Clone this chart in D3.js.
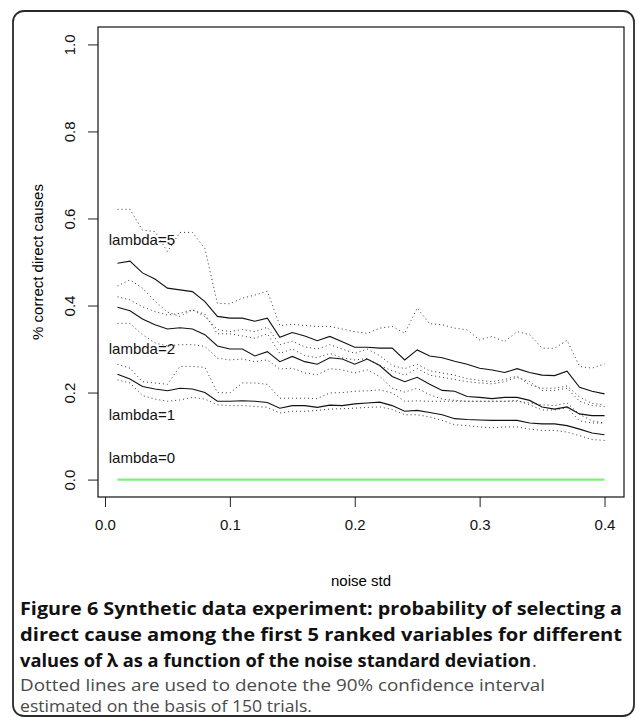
<!DOCTYPE html>
<meta charset="utf-8">
<html>
<head>
<script src="https://d3js.org/d3.v7.min.js"></script>
<style>
    body { margin: 0; background: #fff; }
    svg { display: block; }
</style>
</head>
<body>
<svg id="chart"></svg>
<script>

// noise standard deviation (x)
var noiseStd = [0.01, 0.02, 0.03, 0.04, 0.05, 0.06, 0.07, 0.08, 0.09, 0.10,
                0.11, 0.12, 0.13, 0.14, 0.15, 0.16, 0.17, 0.18, 0.19, 0.20,
                0.21, 0.22, 0.23, 0.24, 0.25, 0.26, 0.27, 0.28, 0.29, 0.30,
                0.31, 0.32, 0.33, 0.34, 0.35, 0.36, 0.37, 0.38, 0.39, 0.40]

// lambda = 5
var lam5Mean = [0.497, 0.502, 0.475, 0.461, 0.440, 0.436, 0.432, 0.409, 0.375, 0.371,
                0.371, 0.364, 0.371, 0.327, 0.338, 0.330, 0.319, 0.329, 0.317, 0.304,
                0.304, 0.302, 0.302, 0.275, 0.298, 0.284, 0.280, 0.272, 0.265, 0.256,
                0.252, 0.246, 0.255, 0.246, 0.240, 0.239, 0.249, 0.212, 0.203, 0.197]
var lam5Hi   = [0.621, 0.621, 0.573, 0.570, 0.524, 0.568, 0.568, 0.531, 0.405, 0.404,
                0.417, 0.424, 0.433, 0.354, 0.357, 0.354, 0.352, 0.352, 0.346, 0.340,
                0.336, 0.348, 0.352, 0.336, 0.394, 0.358, 0.356, 0.348, 0.344, 0.321,
                0.329, 0.317, 0.340, 0.333, 0.302, 0.302, 0.320, 0.260, 0.256, 0.266]
var lam5Lo   = [0.445, 0.459, 0.440, 0.410, 0.385, 0.375, 0.390, 0.380, 0.335, 0.335,
                0.330, 0.325, 0.335, 0.290, 0.300, 0.285, 0.280, 0.290, 0.280, 0.275,
                0.278, 0.262, 0.250, 0.240, 0.255, 0.240, 0.235, 0.230, 0.225, 0.222,
                0.220, 0.225, 0.235, 0.225, 0.205, 0.205, 0.210, 0.180, 0.170, 0.168]

// lambda = 2
var lam2Mean = [0.396, 0.388, 0.369, 0.356, 0.346, 0.349, 0.346, 0.333, 0.307, 0.300,
                0.300, 0.284, 0.294, 0.271, 0.283, 0.271, 0.265, 0.280, 0.277, 0.265,
                0.277, 0.262, 0.237, 0.225, 0.235, 0.219, 0.205, 0.203, 0.191, 0.189,
                0.186, 0.189, 0.189, 0.182, 0.167, 0.162, 0.167, 0.151, 0.147, 0.147]
var lam2Hi   = [0.420, 0.413, 0.397, 0.386, 0.378, 0.382, 0.390, 0.375, 0.345, 0.340,
                0.345, 0.340, 0.350, 0.310, 0.318, 0.305, 0.300, 0.310, 0.300, 0.290,
                0.300, 0.285, 0.262, 0.255, 0.265, 0.250, 0.245, 0.240, 0.232, 0.228,
                0.225, 0.230, 0.238, 0.218, 0.210, 0.210, 0.215, 0.190, 0.175, 0.172]
var lam2Lo   = [0.359, 0.359, 0.333, 0.314, 0.307, 0.310, 0.310, 0.306, 0.279, 0.275,
                0.277, 0.271, 0.275, 0.254, 0.256, 0.245, 0.241, 0.255, 0.252, 0.245,
                0.252, 0.237, 0.210, 0.201, 0.210, 0.195, 0.185, 0.182, 0.180, 0.180,
                0.180, 0.180, 0.182, 0.172, 0.160, 0.160, 0.165, 0.135, 0.130, 0.130]

// lambda = 1
var lam1Mean = [0.242, 0.231, 0.214, 0.208, 0.204, 0.210, 0.208, 0.200, 0.180, 0.180,
                0.181, 0.180, 0.177, 0.164, 0.170, 0.170, 0.166, 0.171, 0.170, 0.174,
                0.176, 0.178, 0.170, 0.157, 0.159, 0.154, 0.149, 0.140, 0.138, 0.137,
                0.136, 0.136, 0.136, 0.130, 0.128, 0.128, 0.124, 0.116, 0.107, 0.103]
var lam1Hi   = [0.265, 0.256, 0.225, 0.222, 0.219, 0.260, 0.260, 0.258, 0.200, 0.199,
                0.222, 0.222, 0.219, 0.187, 0.187, 0.187, 0.186, 0.199, 0.200, 0.203,
                0.204, 0.206, 0.199, 0.180, 0.181, 0.180, 0.180, 0.180, 0.180, 0.180,
                0.180, 0.180, 0.180, 0.176, 0.172, 0.170, 0.176, 0.150, 0.135, 0.130]
var lam1Lo   = [0.229, 0.222, 0.193, 0.185, 0.180, 0.183, 0.189, 0.185, 0.172, 0.170,
                0.170, 0.168, 0.166, 0.153, 0.157, 0.157, 0.159, 0.162, 0.163, 0.164,
                0.166, 0.167, 0.161, 0.149, 0.149, 0.144, 0.136, 0.126, 0.124, 0.121,
                0.119, 0.121, 0.121, 0.116, 0.113, 0.113, 0.109, 0.101, 0.092, 0.090]

// lambda = 0
var lam0Mean = [0, 0, 0, 0, 0, 0, 0, 0, 0, 0, 0, 0, 0, 0, 0, 0, 0, 0, 0, 0,
                0, 0, 0, 0, 0, 0, 0, 0, 0, 0, 0, 0, 0, 0, 0, 0, 0, 0, 0, 0]

var curveLabels = ["lambda=5", "lambda=2", "lambda=1", "lambda=0"]
var labelY = [0.55, 0.30, 0.15, 0.05]
var labelX = 0.003

var yTicks = [0, 0.2, 0.4, 0.6, 0.8, 1.0]
var xTicks = [0, 0.1, 0.2, 0.3, 0.4]

var captionBold = ["Figure 6 Synthetic data experiment: probability of selecting a",
                   "direct cause among the first 5 ranked variables for different",
                   "values of \u03bb as a function of the noise standard deviation"]
var captionText = ["Dotted lines are used to denote the 90% confidence interval",
                   "estimated on the basis of 150 trials."]

var width = 638
var height = 718

var svg = d3.select("#chart")
    .attr("width", width)
    .attr("height", height)

// outer frame of the figure
svg.append("rect")
    .attr("x", 13).attr("y", 11)
    .attr("width", 621).attr("height", 705)
    .attr("rx", 11).attr("ry", 11)
    .attr("fill", "none")
    .attr("stroke", "#2a2a2a")
    .attr("stroke-width", 1.8)

// plot region, R style: 4% padding on each side
var plotL = 98, plotR = 624, plotT = 27, plotB = 497
var xPad = (0.40 - 0.01) * 0.04
var x = d3.scaleLinear()
    .domain([0.01 - xPad, 0.40 + xPad])
    .range([plotL, plotR])
var y = d3.scaleLinear()
    .domain([-0.04, 1.04])
    .range([plotB, plotT])

var font = "'Liberation Sans', Arial, Helvetica, sans-serif"

// y axis
var yAxis = svg.append("g")
    .attr("transform", "translate(" + plotL + ",0)")
    .call(d3.axisLeft(y).tickValues(yTicks).tickSize(10).tickFormat(d3.format(".1f")))
yAxis.select(".domain").remove()
yAxis.selectAll("line").attr("stroke", "#222")
yAxis.selectAll("text")
    .attr("x", 0).attr("dy", "0.35em")
    .attr("text-anchor", "middle")
    .attr("transform", "translate(-28,0) rotate(-90)")
    .style("font-family", font)
    .style("font-size", "15px")
    .attr("fill", "#111")

// x axis
var xAxis = svg.append("g")
    .attr("transform", "translate(0," + plotB + ")")
    .call(d3.axisBottom(x).tickValues(xTicks).tickSize(10).tickPadding(12).tickFormat(d3.format(".1f")))
xAxis.select(".domain").remove()
xAxis.selectAll("line").attr("stroke", "#222")
xAxis.selectAll("text")
    .style("font-family", font)
    .style("font-size", "15px")
    .attr("fill", "#111")

// plot box
svg.append("rect")
    .attr("x", plotL).attr("y", plotT)
    .attr("width", plotR - plotL).attr("height", plotB - plotT)
    .attr("fill", "none")
    .attr("stroke", "#111")
    .attr("stroke-width", 1.2)

// axis titles
svg.append("text")
    .attr("x", (plotL + plotR) / 2).attr("y", 586)
    .attr("text-anchor", "middle")
    .style("font-family", font).style("font-size", "15px")
    .text("noise std")

svg.append("text")
    .attr("transform", "translate(38," + ((plotT + plotB) / 2) + ") rotate(-90)")
    .attr("dy", "0.35em")
    .attr("text-anchor", "middle")
    .style("font-family", font).style("font-size", "15px")
    .text("% correct direct causes")

// curves
var line = d3.line()
    .x((d, i) => x(noiseStd[i]))
    .y(d => y(d))

var dotted = [lam5Hi, lam5Lo, lam2Hi, lam2Lo, lam1Hi, lam1Lo]
var solid = [lam5Mean, lam2Mean, lam1Mean]

svg.append("g")
    .selectAll("path")
    .data(dotted)
    .enter()
    .append("path")
    .attr("d", line)
    .attr("fill", "none")
    .attr("stroke", "#333")
    .attr("stroke-width", 1)
    .attr("stroke-dasharray", "1,3")

svg.append("g")
    .selectAll("path")
    .data(solid)
    .enter()
    .append("path")
    .attr("d", line)
    .attr("fill", "none")
    .attr("stroke", "#111")
    .attr("stroke-width", 1.1)

svg.append("path")
    .datum(lam0Mean)
    .attr("d", line)
    .attr("fill", "none")
    .attr("stroke", "#7ff07f")
    .attr("stroke-width", 2.2)

// curve labels
svg.append("g")
    .selectAll("text")
    .data(curveLabels)
    .enter()
    .append("text")
    .attr("x", x(labelX))
    .attr("y", (d, i) => y(labelY[i]))
    .attr("dy", "0.35em")
    .style("font-family", font)
    .style("font-size", "15px")
    .attr("fill", "#111")
    .text(d => d)

// caption
var capFont = "'Open Sans', Lato, sans-serif"
var boldWidths = [602, 602, 511]
svg.append("g")
    .selectAll("text")
    .data(captionBold)
    .enter()
    .append("text")
    .attr("x", 20)
    .attr("y", (d, i) => 615 + i * 26)
    .attr("textLength", (d, i) => boldWidths[i])
    .attr("lengthAdjust", "spacingAndGlyphs")
    .style("font-family", capFont)
    .style("font-size", "18px")
    .style("font-weight", "bold")
    .attr("fill", "#111")
    .text(d => d)

svg.append("text")
    .attr("x", 532).attr("y", 667)
    .style("font-family", capFont)
    .style("font-size", "18px")
    .attr("fill", "#444")
    .text(".")

var textWidths = [525, 292]
svg.append("g")
    .selectAll("text")
    .data(captionText)
    .enter()
    .append("text")
    .attr("x", 20)
    .attr("y", (d, i) => 691 + i * 21)
    .attr("textLength", (d, i) => textWidths[i])
    .attr("lengthAdjust", "spacingAndGlyphs")
    .style("font-family", capFont)
    .style("font-size", "16.5px")
    .attr("fill", "#4a4a4a")
    .text(d => d)
</script>
</body>
</html>
